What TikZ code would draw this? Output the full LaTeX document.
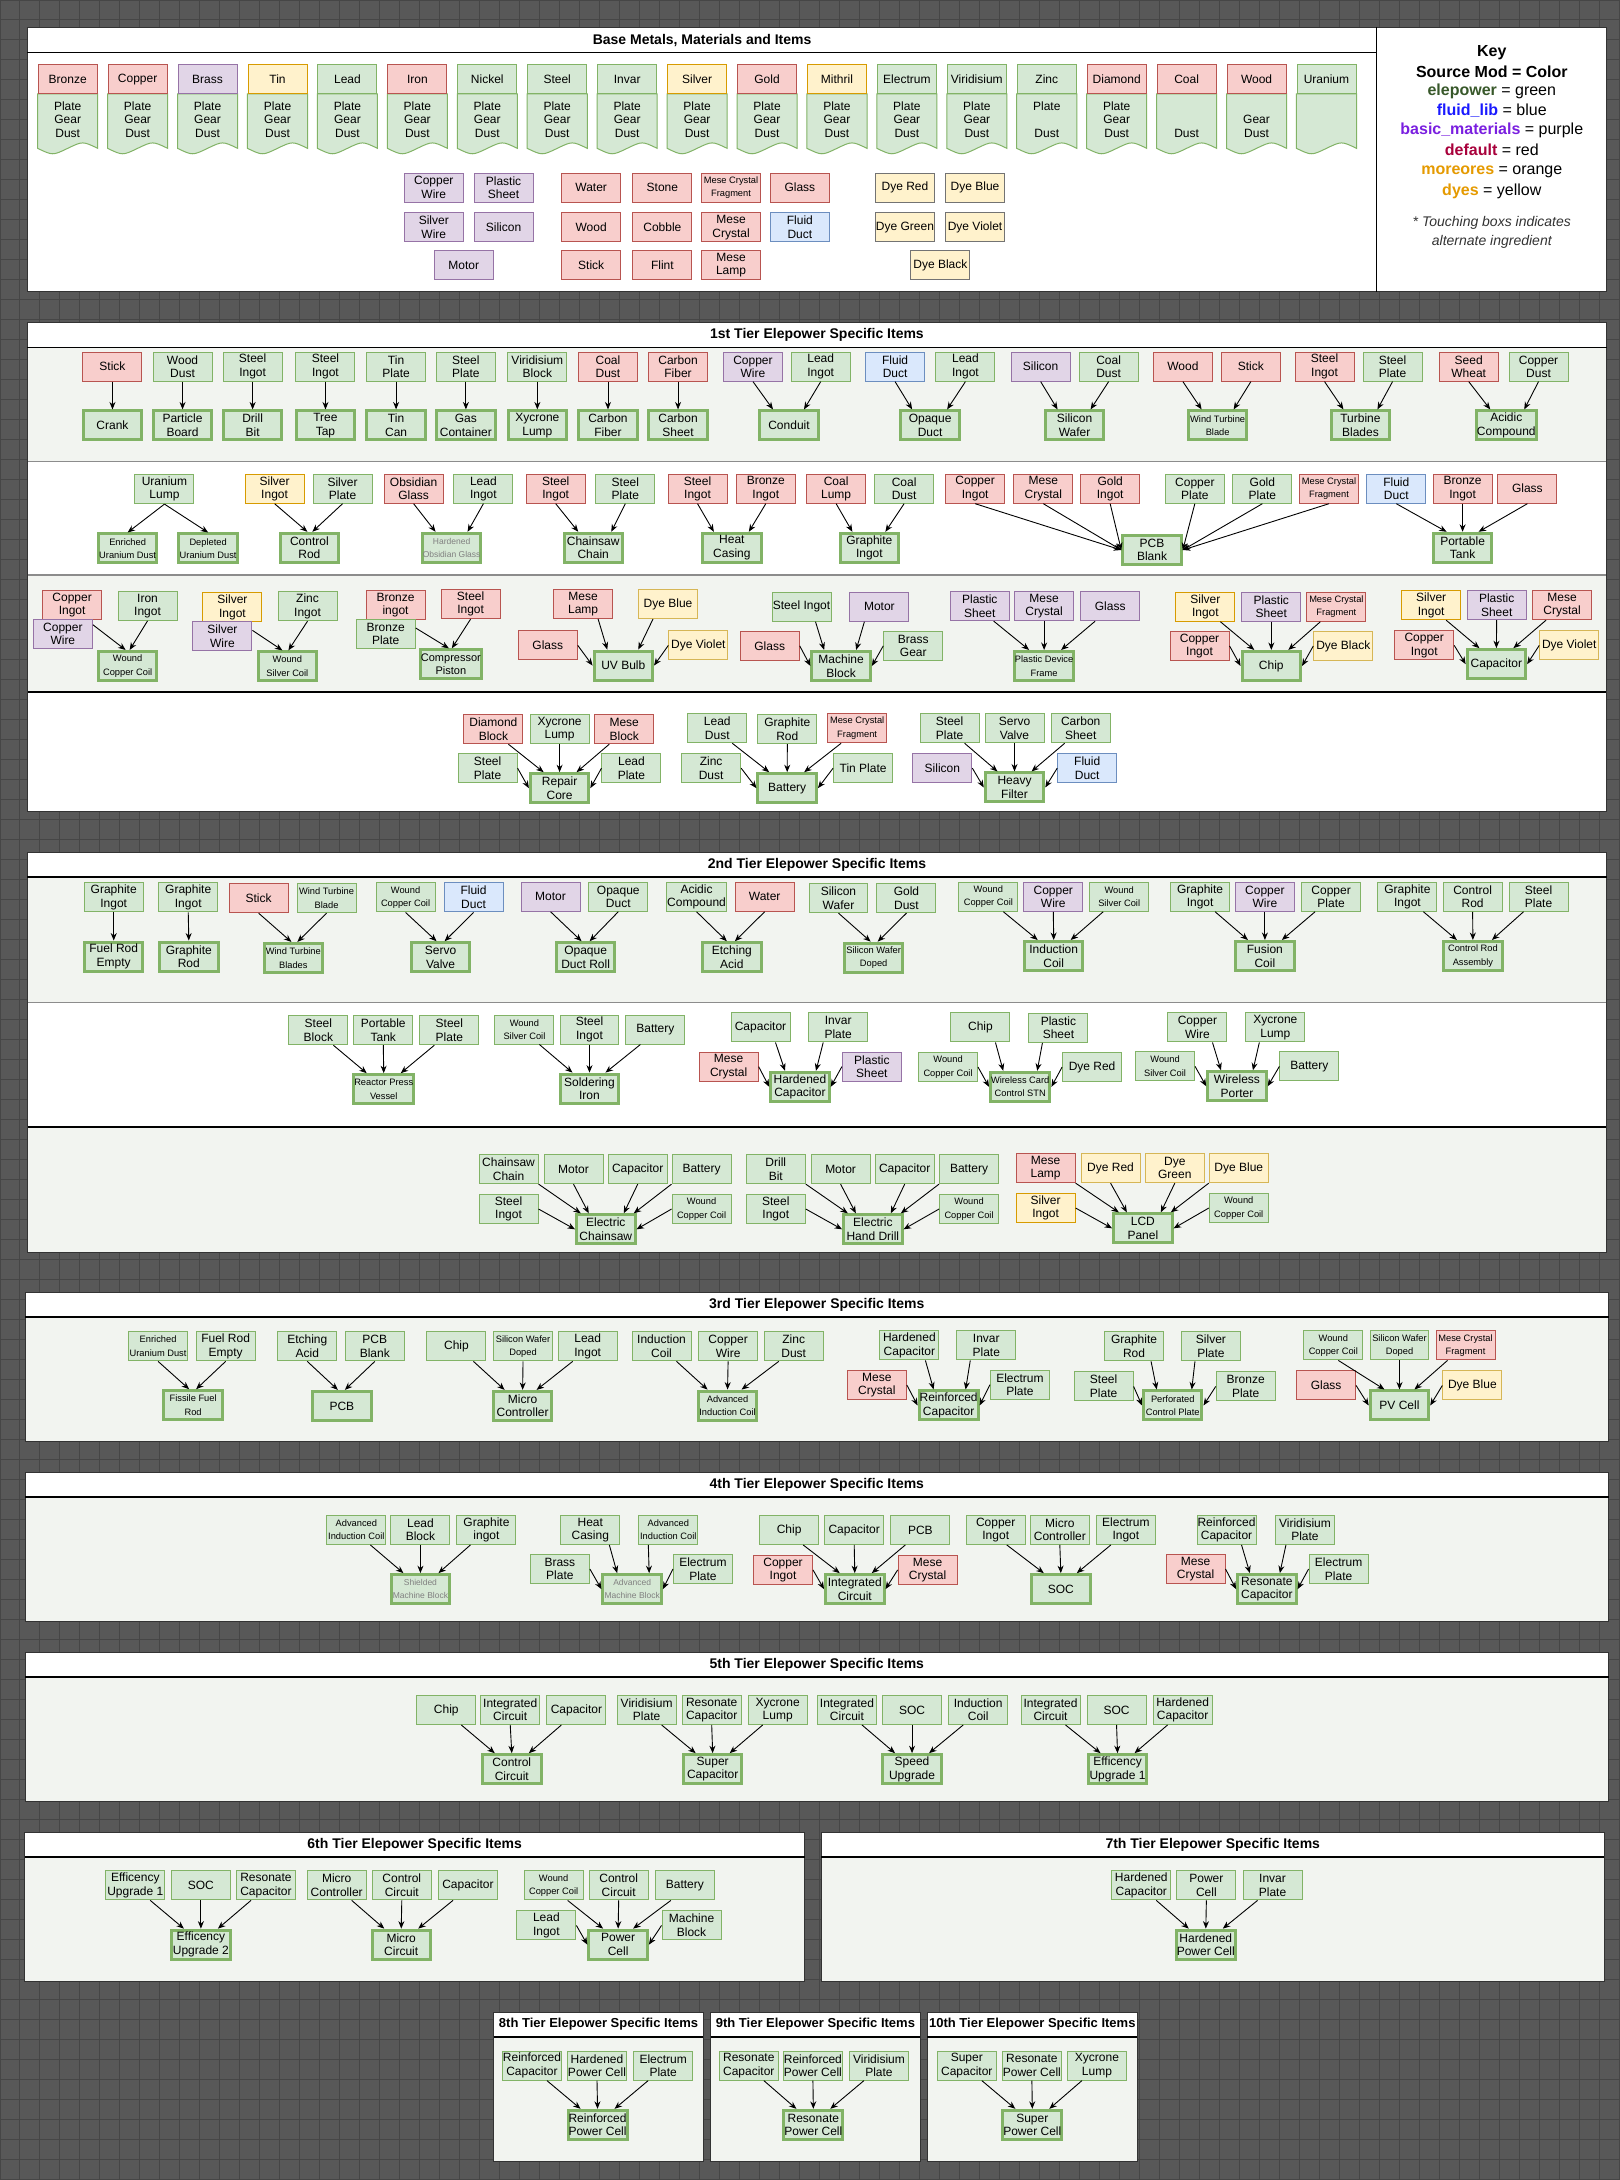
\documentclass[tikz,border=0pt]{standalone}
\usepackage{fontspec}
\setmainfont{Liberation Sans}
\usetikzlibrary{arrows.meta}
\definecolor{gF}{HTML}{D5E8D4}\definecolor{gS}{HTML}{82B366}
\definecolor{rF}{HTML}{F8CECC}\definecolor{rS}{HTML}{B85450}
\definecolor{pF}{HTML}{E1D5E7}\definecolor{pS}{HTML}{9673A6}
\definecolor{yF}{HTML}{FFF2CC}\definecolor{yS}{HTML}{D6B656}
\definecolor{oS}{HTML}{D79B00}
\definecolor{bF}{HTML}{DAE8FC}\definecolor{bS}{HTML}{6C8EBF}
\definecolor{rowL}{HTML}{F2F4F0}
\definecolor{bgC}{HTML}{585858}\definecolor{gridC}{HTML}{464646}
\definecolor{kG}{HTML}{38582A}\definecolor{kB}{HTML}{1A1AFF}
\definecolor{kP}{HTML}{7A1FE0}\definecolor{kR}{HTML}{A8003B}
\definecolor{kO}{HTML}{E59A00}
\newcommand\fnN{\fontsize{12pt}{13.5pt}\selectfont}
\newcommand\fnS{\fontsize{9.3pt}{13.5pt}\selectfont}
\newcommand\fnG{\fontsize{8.5pt}{13.5pt}\selectfont}
\newcommand\fnC{\fontsize{11pt}{13.5pt}\selectfont}
\newcommand\fnT{\fontsize{14pt}{16pt}\selectfont\bfseries}
\newcommand\fnTs{\fontsize{13pt}{15pt}\selectfont\bfseries}
\newcommand\fnK{\fontsize{16pt}{19pt}\selectfont}
\newcommand\fnI{\fontsize{14pt}{17pt}\selectfont\itshape}
\tikzset{
 bx/.style={rectangle, draw, line width=1pt, inner sep=0.5pt, align=center, minimum width=59pt, minimum height=29pt, font=\fnN, text=black},
 gb/.style={bx, fill=gF, draw=gS},
 rb/.style={bx, fill=rF, draw=rS},
 pb/.style={bx, fill=pF, draw=pS},
 yb/.style={bx, fill=yF, draw=yS},
 ob/.style={bx, fill=yF, draw=oS},
 bb/.style={bx, fill=bF, draw=bS},
 db/.style={bx, fill=yF, draw=black!55},
 rs/.style={bx, fill=gF, draw=gS, line width=3pt, minimum width=58.5pt, minimum height=29pt},
 sf/.style={font=\fnS},
 gt/.style={font=\fnG, text=black!50},
 cf/.style={font=\fnC},
 txt/.style={font=\fnN, inner sep=0pt},
 arr/.style={draw=black, line width=0.9pt, -{Stealth[length=7.5pt,width=6pt]}},
 sec/.style={draw=black!80, line width=1pt},
 tline/.style={draw=black, line width=1.5pt},
 rline/.style={draw=black!45, line width=1.2pt},
}
\newcommand\arv[4]{\draw[arr] ([xshift=#2pt]#1.south) -- ([xshift=#4pt]#3.north);}
\newcommand\arE[2]{\draw[arr] (#1.east) -- (#2.west);}
\newcommand\arW[2]{\draw[arr] (#1.west) -- (#2.east);}
\newcommand\tile[6]{%
\begin{scope}[shift={({#1*50.3},0)}]
\filldraw[fill=gF,draw=gS,line width=1pt] (27.1,67.6) -- (70.3,67.6) -- (70.3,106.7) .. controls (59.5,101.5) .. (48.7,106.7) .. controls (37.9,111.9) .. (27.1,106.7) -- cycle;
\node[#2,minimum height=28.6pt] (th#1) at (48.7,57) {#3};
\node[txt] (tpa#1) at (48.7,76.3) {#4};
\node[txt] (tpb#1) at (48.7,86.1) {#5};
\node[txt] (tpc#1) at (48.7,95.9) {#6};
\end{scope}}
\newcommand\secbox[8]{%
\fill[rowL] (#1,#2) rectangle (#3,#4);
\fill[white] (#1,#2) rectangle (#3,#5);
\draw[sec] (#1,#2) rectangle (#3,#4);
\draw[tline] (#1,#5) -- (#3,#5);
\node[font=#8] (#6) at ({(#1+#3)/2},{(#2+#5)/2}) {#7};}
\begin{document}
\begin{tikzpicture}[x=1.3906pt,y=-1.3906pt]
\useasboundingbox (0,0) rectangle (1165,1568);
\fill[bgC] (0,0) rectangle (1165,1568);
\foreach \i in {0,...,81} {\draw[gridC,line width=1pt] ({\i*14.382},0) -- ({\i*14.382},1568);}
\foreach \j in {0,...,109} {\draw[gridC,line width=1pt] (0,{\j*14.382}) -- (1165,{\j*14.382});}

% ================= BASE =================
\fill[white] (19.6,19.6) rectangle (1155.6,209.8);
\draw[sec] (19.6,19.6) rectangle (1155.6,209.8);
\draw[tline] (19.6,37.6) -- (990,37.6);
\draw[tline] (990,19.6) -- (990,209.8);
\node[font=\fnT] (ttl0) at (505,28.8) {Base Metals, Materials and Items};
\tile{0}{rb}{Bronze}{Plate}{Gear}{Dust}
\tile{1}{rb}{Copper}{Plate}{Gear}{Dust}
\tile{2}{pb}{Brass}{Plate}{Gear}{Dust}
\tile{3}{ob}{Tin}{Plate}{Gear}{Dust}
\tile{4}{gb}{Lead}{Plate}{Gear}{Dust}
\tile{5}{rb}{Iron}{Plate}{Gear}{Dust}
\tile{6}{gb}{Nickel}{Plate}{Gear}{Dust}
\tile{7}{gb}{Steel}{Plate}{Gear}{Dust}
\tile{8}{gb}{Invar}{Plate}{Gear}{Dust}
\tile{9}{ob}{Silver}{Plate}{Gear}{Dust}
\tile{10}{rb}{Gold}{Plate}{Gear}{Dust}
\tile{11}{ob}{Mithril}{Plate}{Gear}{Dust}
\tile{12}{gb}{Electrum}{Plate}{Gear}{Dust}
\tile{13}{gb}{Viridisium}{Plate}{Gear}{Dust}
\tile{14}{gb}{Zinc}{Plate}{}{Dust}
\tile{15}{rb}{Diamond}{Plate}{Gear}{Dust}
\tile{16}{rb}{Coal}{}{}{Dust}
\tile{17}{rb}{Wood}{}{Gear}{Dust}
\tile{18}{gb}{Uranium}{}{}{}
\node[pb] (bcw) at (312,134.9) {Copper\\Wire};
\node[pb] (bps) at (362.2,134.9) {Plastic\\Sheet};
\node[pb] (bsw) at (312,163.6) {Silver\\Wire};
\node[pb] (bsi) at (362.2,163.6) {Silicon};
\node[pb] (bmo) at (333.6,190.8) {Motor};
\node[rb] (bwa) at (425.2,134.9) {Water};
\node[rb] (bst) at (476.4,134.9) {Stone};
\node[rb,sf] (bmf) at (525.8,134.9) {Mese Crystal\\Fragment};
\node[rb] (bgl) at (575.3,134.9) {Glass};
\node[rb] (bwo) at (425.2,163.6) {Wood};
\node[rb] (bco) at (476.4,163.6) {Cobble};
\node[rb] (bmc) at (525.8,163.6) {Mese\\Crystal};
\node[bb] (bfd) at (575.3,163.6) {Fluid\\Duct};
\node[rb] (bsk) at (425.2,190.8) {Stick};
\node[rb] (bfl) at (476.4,190.8) {Flint};
\node[rb] (bml) at (525.8,190.8) {Mese\\Lamp};
\node[db] (bdr) at (650.9,134.9) {Dye Red};
\node[db] (bdb) at (701.3,134.9) {Dye Blue};
\node[db] (bdg) at (650.9,163.6) {Dye Green};
\node[db] (bdv) at (701.3,163.6) {Dye Violet};
\node[db] (bdk) at (676.4,190.8) {Dye Black};
% key
\node[font=\fnK\bfseries] (key1) at (1073,37.6) {Key};
\node[font=\fnK\bfseries] (key2) at (1073,51.5) {Source Mod = Color};
\node[font=\fnK] (key3) at (1073,65.4) {\textcolor{kG}{\bfseries elepower} = green};
\node[font=\fnK] (key4) at (1073,79.8) {\textcolor{kB}{\bfseries fluid\_lib} = blue};
\node[font=\fnK] (key5) at (1073,93.5) {\textcolor{kP}{\bfseries basic\_materials} = purple};
\node[font=\fnK] (key6) at (1073,107.9) {\textcolor{kR}{\bfseries default} = red};
\node[font=\fnK] (key7) at (1073,123.5) {\textcolor{kO}{\bfseries moreores} = orange};
\node[font=\fnK] (key8) at (1073,137.8) {\textcolor{kO}{\bfseries dyes} = yellow};
\node[font=\fnI,text=black!80] (key9) at (1073,160.6) {* Touching boxs indicates};
\node[font=\fnI,text=black!80] (key10) at (1073,173.8) {alternate ingredient};

% ================= TIER 1 =================
\fill[white] (19.6,232) rectangle (1155.6,249.8);
\fill[rowL] (19.6,249.8) rectangle (1155.6,332);
\fill[white] (19.6,332) rectangle (1155.6,413.5);
\fill[rowL] (19.6,413.5) rectangle (1155.6,497.9);
\fill[white] (19.6,497.9) rectangle (1155.6,583.7);
\draw[rline] (19.6,332) -- (1155.6,332);
\draw[rline] (19.6,413.5) -- (1155.6,413.5);
\draw[tline] (19.6,497.9) -- (1155.6,497.9);
\draw[sec] (19.6,232) rectangle (1155.6,583.7);
\draw[tline] (19.6,249.8) -- (1155.6,249.8);
\node[font=\fnT] (ttl1) at (587.6,241) {1st Tier Elepower Specific Items};
% row A
\node[rb] (a1) at (80.9,263.7) {Stick};  \node[rs] (ao1) at (80.9,306) {Crank};
\node[gb] (a2) at (131.3,263.7) {Wood\\Dust}; \node[rs] (ao2) at (131.3,306) {Particle\\Board};
\node[gb] (a3) at (181.7,263.7) {Steel\\Ingot}; \node[rs] (ao3) at (181.7,306) {Drill\\Bit};
\node[gb] (a4) at (234.1,263.7) {Steel\\Ingot}; \node[rs] (ao4) at (234.1,306) {Tree\\Tap};
\node[gb] (a5) at (284.9,263.7) {Tin\\Plate}; \node[rs] (ao5) at (284.9,306) {Tin\\Can};
\node[gb] (a6) at (335.1,263.7) {Steel\\Plate}; \node[rs] (ao6) at (335.1,306) {Gas\\Container};
\node[gb] (a7) at (386.5,263.7) {Viridisium\\Block}; \node[rs] (ao7) at (386.5,306) {Xycrone\\Lump};
\node[rb] (a8) at (437.3,263.7) {Coal\\Dust}; \node[rs] (ao8) at (437.3,306) {Carbon\\Fiber};
\node[rb] (a9) at (487.7,263.7) {Carbon\\Fiber}; \node[rs] (ao9) at (487.7,306) {Carbon\\Sheet};
\node[pb] (a10) at (541.6,263.7) {Copper\\Wire}; \node[gb] (a11) at (590.3,263.7) {Lead\\Ingot}; \node[rs] (ao10) at (567.5,306) {Conduit};
\node[bb] (a12) at (643.8,263.7) {Fluid\\Duct}; \node[gb] (a13) at (694.4,263.7) {Lead\\Ingot}; \node[rs] (ao12) at (669,306) {Opaque\\Duct};
\node[pb] (a14) at (748.5,263.7) {Silicon}; \node[gb] (a15) at (797.4,263.7) {Coal\\Dust}; \node[rs] (ao14) at (772.9,306) {Silicon\\Wafer};
\node[rb] (a16) at (850.8,263.7) {Wood}; \node[rb] (a17) at (899.7,263.7) {Stick}; \node[rs,sf] (ao16) at (875.8,306) {Wind Turbine\\Blade};
\node[rb] (a18) at (952.7,263.7) {Steel\\Ingot}; \node[gb] (a19) at (1001.6,263.7) {Steel\\Plate}; \node[rs] (ao18) at (978.5,306) {Turbine\\Blades};
\node[rb] (a20) at (1056.4,263.7) {Seed\\Wheat}; \node[gb] (a21) at (1106.6,263.7) {Copper\\Dust}; \node[rs] (ao20) at (1083.4,306) {Acidic\\Compound};
\foreach \i in {1,...,9} {\draw[arr] (a\i.south) -- (ao\i.north);}
\arv{a10}{0}{ao10}{-16} \arv{a11}{0}{ao10}{15}
\arv{a12}{0}{ao12}{-18} \arv{a13}{0}{ao12}{17}
\arv{a14}{0}{ao14}{-17} \arv{a15}{0}{ao14}{16}
\arv{a16}{0}{ao16}{-16} \arv{a17}{0}{ao16}{16}
\arv{a18}{0}{ao18}{-17} \arv{a19}{0}{ao18}{17}
\arv{a20}{0}{ao20}{-16} \arv{a21}{0}{ao20}{18}
% row B
\node[gb] (b1) at (118.3,351.8) {Uranium\\Lump};
\node[rs,sf] (bo1) at (91.8,394.5) {Enriched\\Uranium Dust};
\node[rs,sf] (bo2) at (149.7,394.5) {Depleted\\Uranium Dust};
\node[ob] (b2) at (197.5,351.5) {Silver\\Ingot}; \node[gb] (b3) at (246.4,351.5) {Silver\\Plate}; \node[rs] (bo3) at (222.5,394) {Control\\Rod};
\node[rb] (b4) at (297.5,351.5) {Obsidian\\Glass}; \node[gb] (b5) at (347.7,351.5) {Lead\\Ingot}; \node[rs,gt] (bo4) at (324.8,394) {Hardened\\Obsidian Glass};
\node[rb] (b6) at (399.7,351.5) {Steel\\Ingot}; \node[gb] (b7) at (449.8,351.5) {Steel\\Plate}; \node[rs] (bo6) at (426.7,394) {Chainsaw\\Chain};
\node[rb] (b8) at (501.7,351.5) {Steel\\Ingot}; \node[rb] (b9) at (550.8,351.5) {Bronze\\Ingot}; \node[rs] (bo8) at (526.4,394) {Heat\\Casing};
\node[rb] (b10) at (601.4,351.5) {Coal\\Lump}; \node[gb] (b11) at (650.3,351.5) {Coal\\Dust}; \node[rs] (bo10) at (625.3,394) {Graphite\\Ingot};
\node[rb] (b12) at (701.4,351.5) {Copper\\Ingot}; \node[rb] (b13) at (750.4,351.5) {Mese\\Crystal}; \node[rb] (b14) at (798.5,351.5) {Gold\\Ingot};
\node[gb] (b15) at (859.4,351.5) {Copper\\Plate}; \node[gb] (b16) at (908,351.5) {Gold\\Plate}; \node[rb,sf] (b17) at (955.9,351.5) {Mese Crystal\\Fragment};
\node[rs] (bo12) at (828.6,395.6) {PCB\\Blank};
\node[bb] (b18) at (1004.3,351.5) {Fluid\\Duct}; \node[rb] (b19) at (1052,351.5) {Bronze\\Ingot}; \node[rb] (b20) at (1098.6,351.5) {Glass}; \node[rs] (bo18) at (1052,394) {Portable\\Tank};
\draw[arr] (b1.south) -- (bo1.north); \draw[arr] (b1.south) -- (bo2.north);
\arv{b2}{0}{bo3}{-2} \arv{b3}{0}{bo3}{3}
\arv{b4}{0}{bo4}{-16} \arv{b5}{0}{bo4}{16}
\arv{b6}{0}{bo6}{-15} \arv{b7}{0}{bo6}{18}
\arv{b8}{0}{bo8}{-18} \arv{b9}{0}{bo8}{17}
\arv{b10}{0}{bo10}{-17} \arv{b11}{0}{bo10}{16}
\draw[arr] (b12.south) -- (bo12.west); \draw[arr] (b13.south) -- (bo12.west); \draw[arr] (b14.south) -- (bo12.west);
\draw[arr] (b15.south) -- (bo12.east); \draw[arr] (b16.south) -- (bo12.east); \draw[arr] (b17.south) -- (bo12.east);
\arv{b18}{0}{bo18}{-16} \arv{b19}{0}{bo18}{0} \arv{b20}{0}{bo18}{16}
% row C
\node[rb] (c1) at (51.9,435.1) {Copper\\Ingot};
\node[gb] (c2) at (106.1,435.8) {Iron\\Ingot};
\node[pb] (c3) at (45.2,455.8) {Copper\\Wire};
\node[rs,sf] (co1) at (91.8,479) {Wound\\Copper Coil};
\node[ob] (c4) at (167.2,436.9) {Silver\\Ingot};
\node[gb] (c5) at (221.2,436) {Zinc\\Ingot};
\node[pb] (c6) at (160,457.7) {Silver\\Wire};
\node[rs,sf] (co2) at (206.7,479.3) {Wound\\Silver Coil};
\node[rb] (c7) at (284.5,435.1) {Bronze\\ingot};
\node[rb] (c8) at (338.5,434.5) {Steel\\Ingot};
\node[gb] (c9) at (277.4,456) {Bronze\\Plate};
\node[rs,cf] (co3) at (324.3,477.8) {Compressor\\Piston};
\node[rb] (c10) at (419.4,434.4) {Mese\\Lamp};
\node[yb] (c11) at (480.5,434.4) {Dye Blue};
\node[rb] (c12) at (394,464.2) {Glass};
\node[yb] (c13) at (502.3,464.2) {Dye Violet};
\node[rs] (co4) at (448.3,478.7) {UV Bulb};
\node[gb] (c14) at (576.5,436.4) {Steel Ingot};
\node[pb] (c15) at (632.5,436.4) {Motor};
\node[rb] (c16) at (553.6,464.5) {Glass};
\node[gb] (c17) at (656.9,464.5) {Brass\\Gear};
\node[rs] (co5) at (605,479) {Machine\\Block};
\node[pb] (c18) at (704.7,436) {Plastic\\Sheet};
\node[pb] (c19) at (751,436) {Mese\\Crystal};
\node[pb] (c20) at (798.5,436) {Glass};
\node[rs,sf] (co6) at (751,479) {Plastic Device\\Frame};
\node[ob] (c21) at (867,436.4) {Silver\\Ingot};
\node[pb] (c22) at (914.4,436.4) {Plastic\\Sheet};
\node[rb,sf] (c23) at (961.2,436.4) {Mese Crystal\\Fragment};
\node[rb] (c24) at (862.8,464.6) {Copper\\Ingot};
\node[yb] (c25) at (966.2,464.6) {Dye Black};
\node[rs] (co7) at (914.4,479) {Chip};
\node[ob] (c26) at (1029.4,435.3) {Silver\\Ingot};
\node[pb] (c27) at (1076.5,435.3) {Plastic\\Sheet};
\node[rb] (c28) at (1123.5,435.3) {Mese\\Crystal};
\node[rb] (c29) at (1024.4,464.2) {Copper\\Ingot};
\node[yb] (c30) at (1128.7,464.2) {Dye Violet};
\node[rs] (co8) at (1076.3,477.7) {Capacitor};
\draw[arr] ([yshift=9pt]c3.east) -- ([xshift=-2pt]co1.north);
\draw[arr] (c2.south) -- ([xshift=2pt]co1.north);
\draw[arr] ([yshift=6pt]c6.east) -- ([xshift=-5pt]co2.north);
\draw[arr] (c5.south) -- ([xshift=1pt]co2.north);
\draw[arr] ([yshift=6pt]c9.east) -- ([xshift=-2pt]co3.north);
\draw[arr] (c8.south) -- ([xshift=1pt]co3.north);
\arv{c10}{15}{co4}{-16} \arv{c11}{-15}{co4}{15} \arE{c12}{co4} \arW{c13}{co4}
\arv{c14}{14}{co5}{-17} \arv{c15}{-15}{co5}{15} \arE{c16}{co5} \arW{c17}{co5}
\arv{c18}{14}{co6}{-15} \arv{c19}{0}{co6}{0} \arv{c20}{-15}{co6}{17}
\arv{c21}{15}{co7}{-17} \arv{c22}{0}{co7}{0} \arv{c23}{-16}{co7}{17} \arE{c24}{co7} \arW{c25}{co7}
\arv{c26}{15}{co8}{-17} \arv{c27}{0}{co8}{0} \arv{c28}{-16}{co8}{17} \arE{c29}{co8} \arW{c30}{co8}
% row D
\node[rb] (d1) at (354.9,524.5) {Diamond\\Block};
\node[gb] (d2) at (402.5,524.5) {Xycrone\\Lump};
\node[rb] (d3) at (449,524.5) {Mese\\Block};
\node[gb] (d4) at (350.7,552.5) {Steel\\Plate};
\node[gb] (d5) at (454.2,552.5) {Lead\\Plate};
\node[rs] (do1) at (402.5,566.9) {Repair\\Core};
\node[gb] (d6) at (515.9,523.8) {Lead\\Dust};
\node[gb] (d7) at (566.3,524.5) {Graphite\\Rod};
\node[rb,sf] (d8) at (616.5,523.8) {Mese Crystal\\Fragment};
\node[gb] (d9) at (511.5,552.5) {Zinc\\Dust};
\node[gb] (d10) at (620.8,552.5) {Tin Plate};
\node[rs] (do2) at (566.2,566.9) {Battery};
\node[gb] (d11) at (683,523.8) {Steel\\Plate};
\node[gb] (d12) at (729.7,523.8) {Servo\\Valve};
\node[gb] (d13) at (777.3,523.8) {Carbon\\Sheet};
\node[pb] (d14) at (677.8,552.5) {Silicon};
\node[bb] (d15) at (782,552.5) {Fluid\\Duct};
\node[rs] (do3) at (729.7,566.4) {Heavy\\Filter};
\arv{d1}{15}{do1}{-16} \arv{d2}{0}{do1}{0} \arv{d3}{-15}{do1}{17} \arE{d4}{do1} \arW{d5}{do1}
\arv{d6}{15}{do2}{-18} \arv{d7}{0}{do2}{0} \arv{d8}{-16}{do2}{17} \arE{d9}{do2} \arW{d10}{do2}
\arv{d11}{15}{do3}{-17} \arv{d12}{0}{do3}{0} \arv{d13}{-16}{do3}{17} \arE{d14}{do3} \arW{d15}{do3}

% ================= TIER 2 =================
\fill[white] (19.6,613.2) rectangle (1155.6,630.9);
\fill[rowL] (19.6,630.9) rectangle (1155.6,720.8);
\fill[white] (19.6,720.8) rectangle (1155.6,810.7);
\fill[rowL] (19.6,810.7) rectangle (1155.6,900.6);
\draw[rline] (19.6,720.8) -- (1155.6,720.8);
\draw[tline] (19.6,810.7) -- (1155.6,810.7);
\draw[sec] (19.6,613.2) rectangle (1155.6,900.6);
\draw[tline] (19.6,630.9) -- (1155.6,630.9);
\node[font=\fnT] (ttl2) at (587.6,622.2) {2nd Tier Elepower Specific Items};
% row A
\node[gb] (e1) at (81.8,645.5) {Graphite\\Ingot}; \node[rs] (eo1) at (81.8,688) {Fuel Rod\\Empty};
\node[gb] (e2) at (135.4,645.5) {Graphite\\Ingot}; \node[rs] (eo2) at (135.8,688) {Graphite\\Rod};
\node[rb] (e3) at (186,646) {Stick}; \node[gb,sf] (e4) at (234.9,646) {Wind Turbine\\Blade}; \node[rs,sf] (eo3) at (211,689) {Wind Turbine\\Blades};
\node[gb,sf] (e5) at (291.7,645.5) {Wound\\Copper Coil}; \node[bb] (e6) at (340.6,645.5) {Fluid\\Duct}; \node[rs] (eo5) at (316.9,688.5) {Servo\\Valve};
\node[pb] (e7) at (396,645) {Motor}; \node[gb] (e8) at (444.7,645) {Opaque\\Duct}; \node[rs] (eo7) at (421.2,688.5) {Opaque\\Duct Roll};
\node[gb] (e9) at (501,645) {Acidic\\Compound}; \node[rb] (e10) at (550,645) {Water}; \node[rs] (eo9) at (526.4,688.5) {Etching\\Acid};
\node[gb] (e11) at (603.1,646) {Silicon\\Wafer}; \node[gb] (e12) at (652,646) {Gold\\Dust}; \node[rs,sf] (eo11) at (628.4,688.8) {Silicon Wafer\\Doped};
\node[gb,sf] (e13) at (710.9,645) {Wound\\Copper Coil}; \node[pb] (e14) at (757.6,645) {Copper\\Wire}; \node[gb,sf] (e15) at (805,645) {Wound\\Silver Coil}; \node[rs] (eo13) at (757.9,687.6) {Induction\\Coil};
\node[gb] (e16) at (863.2,645) {Graphite\\Ingot}; \node[pb] (e17) at (909.8,645) {Copper\\Wire}; \node[gb] (e18) at (957.4,645) {Copper\\Plate}; \node[rs] (eo16) at (909.8,687.6) {Fusion\\Coil};
\node[gb] (e19) at (1012.3,645) {Graphite\\Ingot}; \node[gb] (e20) at (1059.2,645) {Control\\Rod}; \node[gb] (e21) at (1106.6,645) {Steel\\Plate}; \node[rs,sf] (eo19) at (1059.4,687.6) {Control Rod\\Assembly};
\arv{e1}{0}{eo1}{0} \arv{e2}{0}{eo2}{0}
\arv{e3}{0}{eo3}{-2} \arv{e4}{0}{eo3}{4}
\arv{e5}{0}{eo5}{-4} \arv{e6}{0}{eo5}{4}
\arv{e7}{0}{eo7}{-4} \arv{e8}{0}{eo7}{4}
\arv{e9}{0}{eo9}{-5} \arv{e10}{0}{eo9}{3}
\arv{e11}{0}{eo11}{-3} \arv{e12}{0}{eo11}{4}
\arv{e13}{15}{eo13}{-16} \arv{e14}{0}{eo13}{0} \arv{e15}{-16}{eo13}{17}
\arv{e16}{15}{eo16}{-17} \arv{e17}{0}{eo16}{0} \arv{e18}{-16}{eo16}{17}
\arv{e19}{16}{eo19}{-16} \arv{e20}{0}{eo19}{0} \arv{e21}{-15}{eo19}{19}
% row B
\node[gb] (f1) at (229,741) {Steel\\Block}; \node[gb] (f2) at (275.7,741) {Portable\\Tank}; \node[gb] (f3) at (323.2,741) {Steel\\Plate}; \node[rs,sf] (fo1) at (276,783.4) {Reactor Press\\Vessel};
\node[gb,sf] (f4) at (377.2,740.5) {Wound\\Silver Coil}; \node[gb] (f5) at (424,740.5) {Steel\\Ingot}; \node[gb] (f6) at (471.4,740.5) {Battery}; \node[rs] (fo4) at (424,783) {Soldering\\Iron};
\node[gb] (f7) at (547,739) {Capacitor}; \node[gb] (f8) at (602.9,739) {Invar\\Plate}; \node[rb] (f9) at (524.1,767.2) {Mese\\Crystal}; \node[pb] (f10) at (627.1,767.2) {Plastic\\Sheet}; \node[rs] (fo7) at (575.4,781.7) {Hardened\\Capacitor};
\node[gb] (f11) at (705.2,739) {Chip}; \node[gb] (f12) at (761.3,739.3) {Plastic\\Sheet}; \node[gb,sf] (f13) at (681.9,767.5) {Wound\\Copper Coil}; \node[gb] (f14) at (785.5,767.5) {Dye Red}; \node[rs,sf] (fo11) at (733.8,781.7) {Wireless Card\\Control STN};
\node[gb] (f15) at (861.3,739) {Copper\\Wire}; \node[gb] (f16) at (917.3,739) {Xycrone\\Lump}; \node[gb,sf] (f17) at (838,767) {Wound\\Silver Coil}; \node[gb] (f18) at (941.8,767) {Battery}; \node[rs] (fo15) at (889.7,781.3) {Wireless\\Porter};
\arv{f1}{15}{fo1}{-17} \arv{f2}{0}{fo1}{0} \arv{f3}{-15}{fo1}{17}
\arv{f4}{15}{fo4}{-17} \arv{f5}{0}{fo4}{0} \arv{f6}{-15}{fo4}{16}
\arv{f7}{15}{fo7}{-15} \arv{f8}{-15}{fo7}{16} \arE{f9}{fo7} \arW{f10}{fo7}
\arv{f11}{15}{fo11}{-17} \arv{f12}{-16}{fo11}{17} \arE{f13}{fo11} \arW{f14}{fo11}
\arv{f15}{15}{fo15}{-16} \arv{f16}{-16}{fo15}{16} \arE{f17}{fo15} \arW{f18}{fo15}
% row C
\node[gb] (g1) at (365.8,840.9) {Chainsaw\\Chain}; \node[gb] (g2) at (412.5,840.9) {Motor}; \node[gb] (g3) at (458.7,840.9) {Capacitor}; \node[gb] (g4) at (504.6,840.9) {Battery};
\node[gb] (g5) at (365.8,869.6) {Steel\\Ingot}; \node[gb,sf] (g6) at (504.6,869.6) {Wound\\Copper Coil}; \node[rs] (go1) at (435.7,884.2) {Electric\\Chainsaw};
\node[gb] (g7) at (558,840.9) {Drill\\Bit}; \node[gb] (g8) at (604.6,840.9) {Motor}; \node[gb] (g9) at (650.7,840.9) {Capacitor}; \node[gb] (g10) at (697,840.9) {Battery};
\node[gb] (g11) at (558,869.6) {Steel\\Ingot}; \node[gb,sf] (g12) at (697,869.6) {Wound\\Copper Coil}; \node[rs] (go7) at (627.8,884.2) {Electric\\Hand Drill};
\node[rb] (g13) at (752.1,840.2) {Mese\\Lamp}; \node[yb] (g14) at (798.8,840.2) {Dye Red}; \node[yb] (g15) at (845,840.2) {Dye\\Green}; \node[yb] (g16) at (891,840.2) {Dye Blue};
\node[ob] (g17) at (752.1,868.9) {Silver\\Ingot}; \node[gb,sf] (g18) at (891,868.9) {Wound\\Copper Coil}; \node[rs] (go13) at (822,883.5) {LCD\\Panel};
\draw[arr] (g1.south east) -- ([xshift=-25pt]go1.north); \arv{g2}{0}{go1}{-17} \arv{g3}{0}{go1}{18} \draw[arr] (g4.south west) -- ([xshift=28pt]go1.north); \arE{g5}{go1} \arW{g6}{go1}
\draw[arr] (g7.south east) -- ([xshift=-25pt]go7.north); \arv{g8}{0}{go7}{-17} \arv{g9}{0}{go7}{18} \draw[arr] (g10.south west) -- ([xshift=28pt]go7.north); \arE{g11}{go7} \arW{g12}{go7}
\draw[arr] (g13.south east) -- ([xshift=-24pt]go13.north); \arv{g14}{0}{go13}{-16} \arv{g15}{0}{go13}{18} \draw[arr] (g16.south west) -- ([xshift=28pt]go13.north); \arE{g17}{go13} \arW{g18}{go13}

% ================= TIER 3 =================
\secbox{18}{929.6}{1157}{1036.7}{947.3}{ttl3}{3rd Tier Elepower Specific Items}{\fnT}
\node[gb,sf] (h1) at (113.7,968.4) {Enriched\\Uranium Dust}; \node[gb] (h2) at (162.3,968.4) {Fuel Rod\\Empty}; \node[rs,sf] (ho1) at (138.9,1010.7) {Fissile Fuel\\Rod};
\node[gb] (h3) at (221,968.4) {Etching\\Acid}; \node[gb] (h4) at (269.6,968.4) {PCB\\Blank}; \node[rs] (ho3) at (245.9,1011.2) {PCB};
\node[gb] (h5) at (328.3,968.4) {Chip}; \node[gb,sf] (h6) at (376.2,968.4) {Silicon Wafer\\Doped}; \node[gb] (h7) at (422.7,968.4) {Lead\\Ingot}; \node[rs] (ho5) at (375.9,1011.2) {Micro\\Controller};
\node[gb] (h8) at (475.8,968.4) {Induction\\Coil}; \node[gb] (h9) at (523.7,968.4) {Copper\\Wire}; \node[gb] (h10) at (570.9,968.4) {Zinc\\Dust}; \node[rs,sf] (ho8) at (523.3,1011) {Advanced\\Induction Coil};
\node[gb] (h11) at (654.1,967.7) {Hardened\\Capacitor}; \node[gb] (h12) at (709.4,967.7) {Invar\\Plate}; \node[rb] (h13) at (630.7,996.2) {Mese\\Crystal}; \node[gb] (h14) at (733.6,995.9) {Electrum\\Plate}; \node[rs] (ho11) at (682.3,1010.9) {Reinforced\\Capacitor};
\node[gb] (h15) at (815.7,968.4) {Graphite\\Rod}; \node[gb] (h16) at (871,968.4) {Silver\\Plate}; \node[gb] (h17) at (793.8,997.2) {Steel\\Plate}; \node[gb] (h18) at (896,997.2) {Bronze\\Plate}; \node[rs,sf] (ho15) at (843.5,1010.9) {Perforated\\Control Plate};
\node[gb,sf] (h19) at (959,967.7) {Wound\\Copper Coil}; \node[gb,sf] (h20) at (1006.6,967.7) {Silicon Wafer\\Doped}; \node[rb,sf] (h21) at (1054.1,967.7) {Mese Crystal\\Fragment}; \node[rb] (h22) at (953.8,996.5) {Glass}; \node[yb] (h23) at (1059,996.5) {Dye Blue}; \node[rs] (ho19) at (1006.6,1010.9) {PV Cell};
\arv{h1}{0}{ho1}{-4} \arv{h2}{0}{ho1}{3}
\arv{h3}{0}{ho3}{-4} \arv{h4}{0}{ho3}{3}
\arv{h5}{17}{ho5}{-18} \arv{h6}{0}{ho5}{0} \arv{h7}{-15}{ho5}{14}
\arv{h8}{15}{ho8}{-20} \arv{h9}{0}{ho8}{0} \arv{h10}{-15}{ho8}{14}
\arv{h11}{16}{ho11}{-15} \arv{h12}{-16}{ho11}{17} \arE{h13}{ho11} \arW{h14}{ho11}
\arv{h15}{17}{ho15}{-16} \arv{h16}{-16}{ho15}{19} \arE{h17}{ho15} \arW{h18}{ho15}
\arv{h19}{5}{ho19}{-15} \arv{h20}{0}{ho19}{0} \arv{h21}{-18}{ho19}{15} \arE{h22}{ho19} \arW{h23}{ho19}

% ================= TIER 4 =================
\secbox{18}{1059}{1157}{1166.2}{1076.7}{ttl4}{4th Tier Elepower Specific Items}{\fnT}
\node[gb,sf] (i1) at (256.3,1100.4) {Advanced\\Induction Coil}; \node[gb] (i2) at (302.4,1100.4) {Lead\\Block}; \node[gb] (i3) at (349.9,1100.4) {Graphite\\ingot}; \node[rs,gt] (io1) at (302.4,1143) {Shielded\\Machine Block};
\node[gb] (i4) at (424.6,1100.4) {Heat\\Casing}; \node[gb,sf] (i5) at (480.7,1100.4) {Advanced\\Induction Coil}; \node[gb] (i6) at (402.7,1128.5) {Brass\\Plate}; \node[gb] (i7) at (505.6,1128.5) {Electrum\\Plate}; \node[rs,gt] (io4) at (454.7,1143) {Advanced\\Machine Block};
\node[gb] (i8) at (567.6,1100.4) {Chip}; \node[gb] (i9) at (614.4,1100.4) {Capacitor}; \node[gb] (i10) at (662,1100.4) {PCB}; \node[rb] (i11) at (563.2,1129.2) {Copper\\Ingot}; \node[rb] (i12) at (667.2,1129.2) {Mese\\Crystal}; \node[rs] (io8) at (614.8,1143) {Integrated\\Circuit};
\node[gb] (i13) at (716.2,1100.4) {Copper\\Ingot}; \node[gb] (i14) at (762.3,1100.4) {Micro\\Controller}; \node[gb] (i15) at (809.8,1100.4) {Electrum\\Ingot}; \node[rs] (io13) at (763,1143) {SOC};
\node[gb] (i16) at (882.2,1100.4) {Reinforced\\Capacitor}; \node[gb] (i17) at (938.6,1100.4) {Viridisium\\Plate}; \node[rb] (i18) at (859.9,1128.5) {Mese\\Crystal}; \node[gb] (i19) at (962.8,1128.5) {Electrum\\Plate}; \node[rs] (io16) at (911.2,1143) {Resonate\\Capacitor};
\arv{i1}{14}{io1}{-17} \arv{i2}{0}{io1}{0} \arv{i3}{-16}{io1}{18}
\arv{i4}{19}{io4}{-15} \arv{i5}{-20}{io4}{17} \arE{i6}{io4} \arW{i7}{io4}
\arv{i8}{14}{io8}{-15} \arv{i9}{0}{io8}{0} \arv{i10}{-15}{io8}{17} \arE{i11}{io8} \arW{i12}{io8}
\arv{i13}{11}{io13}{-17} \arv{i14}{0}{io13}{0} \arv{i15}{-15}{io13}{16}
\arv{i16}{15}{io16}{-17} \arv{i17}{-19}{io16}{13} \arE{i18}{io16} \arW{i19}{io16}

% ================= TIER 5 =================
\secbox{18}{1188.5}{1157}{1295.6}{1206.2}{ttl5}{5th Tier Elepower Specific Items}{\fnT}
\node[gb] (j1) at (321,1229.9) {Chip}; \node[gb] (j2) at (367,1229.9) {Integrated\\Circuit}; \node[gb] (j3) at (414.6,1229.9) {Capacitor}; \node[rs] (jo1) at (368.1,1272.5) {Control\\Circuit};
\node[gb] (j4) at (465.1,1229.9) {Viridisium\\Plate}; \node[gb] (j5) at (511.9,1229.9) {Resonate\\Capacitor}; \node[gb] (j6) at (559.4,1229.9) {Xycrone\\Lump}; \node[rs] (jo4) at (512.6,1272.5) {Super\\Capacitor};
\node[gb] (j7) at (609.2,1229.9) {Integrated\\Circuit}; \node[gb] (j8) at (656,1229.9) {SOC}; \node[gb] (j9) at (703.6,1229.9) {Induction\\Coil}; \node[rs] (jo7) at (656,1272.5) {Speed\\Upgrade};
\node[gb] (j10) at (755.6,1229.9) {Integrated\\Circuit}; \node[gb] (j11) at (803.1,1229.9) {SOC}; \node[gb] (j12) at (850.6,1229.9) {Hardened\\Capacitor}; \node[rs] (jo10) at (803.8,1272.5) {Efficency\\Upgrade 1};
\arv{j1}{15}{jo1}{-17} \arv{j2}{0}{jo1}{0} \arv{j3}{-15}{jo1}{17}
\arv{j4}{15}{jo4}{-17} \arv{j5}{0}{jo4}{0} \arv{j6}{-15}{jo4}{17}
\arv{j7}{15}{jo7}{-17} \arv{j8}{0}{jo7}{0} \arv{j9}{-15}{jo7}{17}
\arv{j10}{15}{jo10}{-17} \arv{j11}{0}{jo10}{0} \arv{j12}{-15}{jo10}{17}

% ================= TIER 6 / 7 =================
\secbox{17.8}{1317.9}{578.7}{1425.1}{1335.6}{ttl6}{6th Tier Elepower Specific Items}{\fnT}
\secbox{590.6}{1317.9}{1154}{1425.1}{1335.6}{ttl7}{7th Tier Elepower Specific Items}{\fnT}
\node[gb] (m1) at (97.3,1356.1) {Efficency\\Upgrade 1}; \node[gb] (m2) at (144.5,1356.1) {SOC}; \node[gb] (m3) at (191.3,1356.1) {Resonate\\Capacitor}; \node[rs] (mo1) at (144.5,1398.7) {Efficency\\Upgrade 2};
\node[gb] (m4) at (242.2,1356.1) {Micro\\Controller}; \node[gb] (m5) at (289,1356.1) {Control\\Circuit}; \node[gb] (m6) at (336.6,1356.1) {Capacitor}; \node[rs] (mo4) at (288.6,1398.7) {Micro\\Circuit};
\node[gb,sf] (m7) at (398.2,1356.1) {Wound\\Copper Coil}; \node[gb] (m8) at (445,1356.1) {Control\\Circuit}; \node[gb] (m9) at (492.6,1356.1) {Battery}; \node[gb] (m10) at (393,1384.9) {Lead\\Ingot}; \node[gb] (m11) at (497.4,1384.9) {Machine\\Block}; \node[rs] (mo7) at (444.6,1398.7) {Power\\Cell};
\arv{m1}{15}{mo1}{-17} \arv{m2}{0}{mo1}{0} \arv{m3}{-15}{mo1}{17}
\arv{m4}{15}{mo4}{-17} \arv{m5}{0}{mo4}{0} \arv{m6}{-15}{mo4}{17}
\arv{m7}{14}{mo7}{-15} \arv{m8}{0}{mo7}{0} \arv{m9}{-14}{mo7}{15} \arE{m10}{mo7} \arW{m11}{mo7}
\node[gb] (n1) at (820.9,1356.1) {Hardened\\Capacitor}; \node[gb] (n2) at (867.7,1356.1) {Power\\Cell}; \node[gb] (n3) at (915.3,1356.1) {Invar\\Plate}; \node[rs] (no1) at (867.3,1398.7) {Hardened\\Power Cell};
\arv{n1}{15}{no1}{-17} \arv{n2}{0}{no1}{0} \arv{n3}{-15}{no1}{17}

% ================= TIER 8 / 9 / 10 =================
\secbox{355.1}{1447.3}{505.9}{1555}{1465}{ttl8}{8th Tier Elepower Specific Items}{\fnTs}
\secbox{511.1}{1447.3}{661.9}{1555}{1465}{ttl9}{9th Tier Elepower Specific Items}{\fnTs}
\secbox{667.1}{1447.3}{817.9}{1555}{1465}{ttl10}{10th Tier Elepower Specific Items}{\fnTs}
\node[gb] (q1) at (382.6,1485.7) {Reinforced\\Capacitor}; \node[gb] (q2) at (429.4,1485.7) {Hardened\\Power Cell}; \node[gb] (q3) at (477,1485.7) {Electrum\\Plate}; \node[rs] (qo1) at (429.8,1528.3) {Reinforced\\Power Cell};
\node[gb] (q4) at (538.6,1485.7) {Resonate\\Capacitor}; \node[gb] (q5) at (584.7,1485.7) {Reinforced\\Power Cell}; \node[gb] (q6) at (632.2,1485.7) {Viridisium\\Plate}; \node[rs] (qo4) at (585,1528.3) {Resonate\\Power Cell};
\node[gb] (q7) at (695.4,1485.7) {Super\\Capacitor}; \node[gb] (q8) at (742.2,1485.7) {Resonate\\Power Cell}; \node[gb] (q9) at (789,1485.7) {Xycrone\\Lump}; \node[rs] (qo7) at (742.5,1528.3) {Super\\Power Cell};
\arv{q1}{15}{qo1}{-17} \arv{q2}{0}{qo1}{0} \arv{q3}{-15}{qo1}{17}
\arv{q4}{15}{qo4}{-17} \arv{q5}{0}{qo4}{0} \arv{q6}{-15}{qo4}{17}
\arv{q7}{15}{qo7}{-17} \arv{q8}{0}{qo7}{0} \arv{q9}{-15}{qo7}{17}
\end{tikzpicture}
\end{document}
